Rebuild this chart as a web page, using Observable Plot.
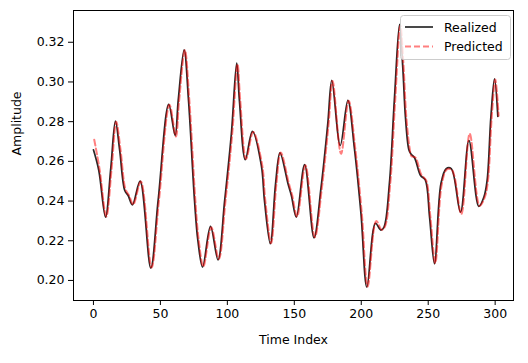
<!DOCTYPE html>
<html>
<head>
<meta charset="utf-8">
<script src="https://cdn.jsdelivr.net/npm/d3@7"></script>
<script src="https://cdn.jsdelivr.net/npm/@observablehq/plot@0.6"></script>
<style>
  html, body { margin: 0; padding: 0; background: #fff; }
  #chart { width: 528px; height: 363px; }
</style>
</head>
<body>
<div id="chart"></div>
<script>
// Time index of each read-off point
const timeIndex = [0, 4, 9, 13, 16.4, 19.6, 23.4, 25.9, 29.1, 34.8, 42.8, 48.3, 56.2, 61, 63.3, 67.7, 71, 75.5, 78, 81.5, 87.4, 93, 98, 103, 107, 109, 113.4, 118.7, 125.4, 127.7, 132.1, 136, 139.3, 145.3, 147.8, 151.5, 157.7, 164.7, 170, 175, 178, 184.3, 190, 194.8, 199.8, 204.2, 210.6, 214.6, 217, 221, 224.7, 228.6, 231, 233, 235.5, 237, 239.8, 244.3, 247.8, 251, 254.7, 259.5, 263.4, 267.2, 274.1, 280.4, 287.8, 291.6, 294, 296.8, 299.5, 302];
// Realized amplitude
const realized = [0.2658, 0.2554, 0.2319, 0.2570, 0.2803, 0.2655, 0.2453, 0.2428, 0.2381, 0.2500, 0.2062, 0.2403, 0.2887, 0.2730, 0.2907, 0.3162, 0.2907, 0.2400, 0.2200, 0.2067, 0.2272, 0.2104, 0.2403, 0.2739, 0.3095, 0.2907, 0.2608, 0.2751, 0.2579, 0.2403, 0.2185, 0.2487, 0.2643, 0.2487, 0.2428, 0.2319, 0.2584, 0.2215, 0.2470, 0.2790, 0.3008, 0.2680, 0.2907, 0.2670, 0.2336, 0.1966, 0.2288, 0.2254, 0.2269, 0.2487, 0.2907, 0.3290, 0.3075, 0.2823, 0.2660, 0.2638, 0.2618, 0.2529, 0.2507, 0.2320, 0.2084, 0.2487, 0.2563, 0.2563, 0.2344, 0.2705, 0.2373, 0.2420, 0.2504, 0.2823, 0.3016, 0.2826];
// Predicted amplitude
const predicted = [0.2709, 0.2560, 0.2322, 0.2565, 0.2800, 0.2660, 0.2458, 0.2430, 0.2383, 0.2498, 0.2065, 0.2400, 0.2885, 0.2725, 0.2900, 0.3160, 0.2910, 0.2405, 0.2205, 0.2070, 0.2268, 0.2108, 0.2400, 0.2735, 0.3090, 0.2910, 0.2612, 0.2748, 0.2582, 0.2406, 0.2188, 0.2483, 0.2645, 0.2490, 0.2430, 0.2322, 0.2580, 0.2218, 0.2466, 0.2786, 0.3005, 0.2638, 0.2905, 0.2673, 0.2340, 0.1970, 0.2300, 0.2256, 0.2270, 0.2483, 0.2900, 0.3285, 0.3080, 0.2830, 0.2668, 0.2625, 0.2620, 0.2532, 0.2505, 0.2323, 0.2088, 0.2483, 0.2560, 0.2556, 0.2335, 0.2739, 0.2376, 0.2418, 0.2500, 0.2818, 0.3012, 0.2830];

const xTicks = [0, 50, 100, 150, 200, 250, 300];
const yTicks = [0.20, 0.22, 0.24, 0.26, 0.28, 0.30, 0.32];
const seriesNames = ["Realized", "Predicted"];

const realizedData = timeIndex.map((t, i) => ({t, v: realized[i]}));
const predictedData = timeIndex.map((t, i) => ({t, v: predicted[i]}));

const font = "DejaVu Sans, sans-serif";

const chart = Plot.plot({
  width: 528,
  height: 363,
  marginLeft: 73,
  marginRight: 15,
  marginTop: 10,
  marginBottom: 63,
  style: {fontFamily: font, fontSize: "12.5px", color: "black", background: "white"},
  x: {domain: [-14.9, 313.7]},
  y: {domain: [0.1899, 0.3360]},
  marks: [
    Plot.line(realizedData, {x: "t", y: "v", curve: "catmull-rom", stroke: "#111", strokeOpacity: 0.9, strokeWidth: 1.7}),
    Plot.line(predictedData, {x: "t", y: "v", curve: "catmull-rom", stroke: "red", strokeOpacity: 0.5, strokeWidth: 2, strokeDasharray: "6,3", dx: 0.8}),
    Plot.frame({stroke: "black", strokeWidth: 1}),
    Plot.axisX({ticks: xTicks, tickFormat: d3.format("d"), tickSize: 5, tickPadding: 4, label: null, fontSize: 12.5}),
    Plot.axisY({ticks: yTicks, tickFormat: d3.format(".2f"), tickSize: 5, tickPadding: 4, label: null, fontSize: 12.5}),
    Plot.text(["Time Index"], {frameAnchor: "bottom", dy: 43, text: d => d, fontSize: 12.5, fill: "black"}),
    Plot.text(["Amplitude"], {frameAnchor: "left", dx: -57, rotate: -90, text: d => d, fontSize: 12.5, fill: "black"})
  ]
});

document.getElementById("chart").appendChild(chart);

// Legend inside the plot, top-right
const svg = d3.select(chart);
const g = svg.append("g").attr("font-family", font).attr("font-size", 12.5).attr("text-anchor", "start");
g.append("rect")
  .attr("x", 400.5).attr("y", 15.5).attr("width", 110).attr("height", 44)
  .attr("rx", 3).attr("fill", "white").attr("fill-opacity", 0.8)
  .attr("stroke", "#cccccc").attr("stroke-width", 1);
const styles = [
  {stroke: "#111", opacity: 0.9, dash: null, width: 1.7},
  {stroke: "red", opacity: 0.5, dash: "6,3", width: 2}
];
seriesNames.forEach((name, i) => {
  const y = 27 + i * 19.5;
  g.append("line")
    .attr("x1", 405).attr("x2", 433).attr("y1", y).attr("y2", y)
    .attr("stroke", styles[i].stroke).attr("stroke-opacity", styles[i].opacity)
    .attr("stroke-width", styles[i].width)
    .attr("stroke-dasharray", styles[i].dash);
  g.append("text").attr("x", 444).attr("y", y).attr("dy", "0.36em")
    .attr("text-anchor", "start")
    .attr("fill", "black").text(name);
});
</script>
</body>
</html>
